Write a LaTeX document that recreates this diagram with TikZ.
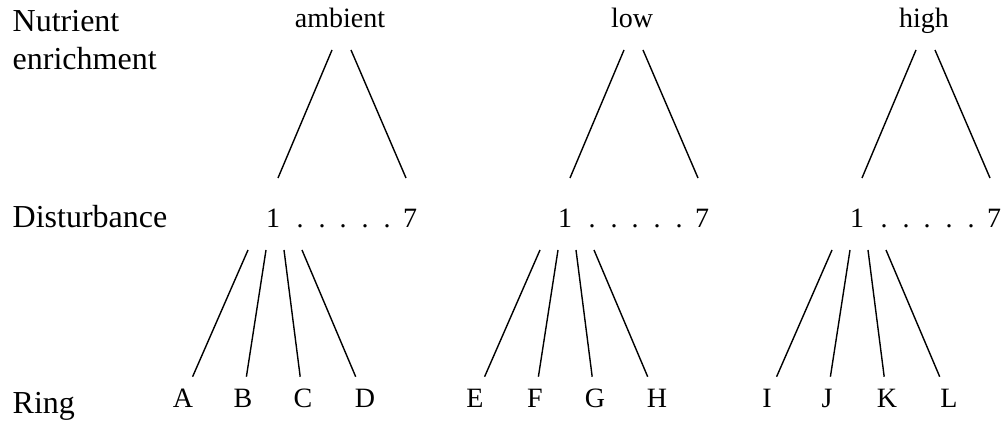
\documentclass[tikz,border=0pt]{standalone}
\usepackage{fontspec}
\setmainfont{Liberation Serif}
\usetikzlibrary{positioning}

\begin{document}
\begin{tikzpicture}[
    x=0.5pt, y=-0.5pt,
    line width=0.7pt,
    rowlabel/.style={anchor=base west, inner sep=0pt, font=\fontsize{16}{19.2}\selectfont, align=left},
    level/.style={anchor=base, inner sep=0pt, font=\fontsize{14}{16.8}\selectfont},
    ring/.style={anchor=base, inner sep=6pt, text height=9.3pt, text depth=0pt, font=\fontsize{14}{16.8}\selectfont}
]
\useasboundingbox (0,0) rectangle (1002,422);

% row labels
\node[rowlabel] (nutr) at (12,70) {Nutrient\\enrichment};
\node[rowlabel] (dist) at (12,228) {Disturbance};
\node[rowlabel] (ringlab) at (12,414) {Ring};

% one tree per nutrient level
\foreach \lev/\n/\rA/\rB/\rC/\rD [count=\i from 0] in {ambient/amb/A/B/C/D, low/low/E/F/G/H, high/high/I/J/K/L}{
  \begin{scope}[xshift={\i*146pt}]
    \node[level] (\n) at (340,28) {\lev};
    \node[level] (\n-1) at (273,228) {1};
    \node[level] (\n-7) at (410,228) {7};
    \foreach \d [count=\j] in {300,322,343,365,387}
      \node[level] (\n-dot\j) at (\d,228) {.};
    % nutrient -> disturbance
    \coordinate (\n-tl) at (332,50);
    \coordinate (\n-tr) at (351,50);
    \coordinate (\n-bl) at (278,178);
    \coordinate (\n-br) at (406,178);
    \draw (\n-tl) -- (\n-bl);
    \draw (\n-tr) -- (\n-br);
    % rings
    \node[ring] (\rA) at (183,408) {\rA};
    \node[ring] (\rB) at (243,408) {\rB};
    \node[ring] (\rC) at (303,408) {\rC};
    \node[ring] (\rD) at (365,408) {\rD};
    \foreach \x/\r [count=\j] in {248/\rA, 266/\rB, 284/\rC, 302/\rD}{
      \coordinate (\n-f\j) at (\x,250);
      \draw (\n-f\j) -- (\r);
    }
  \end{scope}
}
\end{tikzpicture}
\end{document}
